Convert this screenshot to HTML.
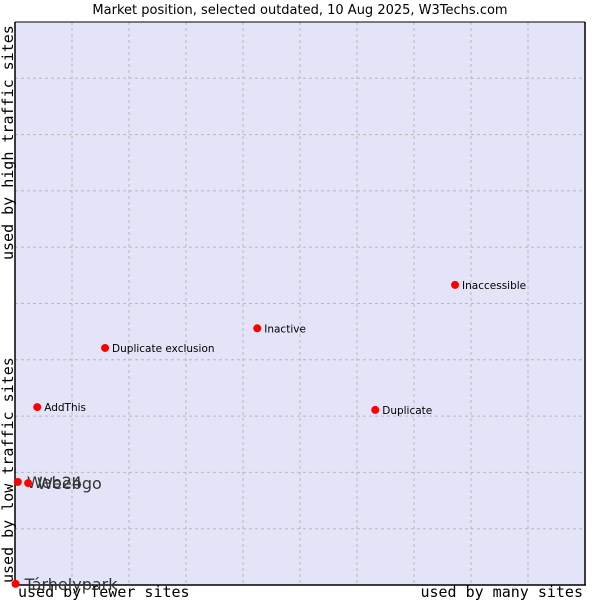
<!DOCTYPE html>
<html><head><meta charset="utf-8"><style>
body{margin:0;background:#fff;width:600px;height:600px;overflow:hidden}
svg text{font-family:"DejaVu Sans","Liberation Sans",sans-serif}
.mono{font-family:"DejaVu Sans Mono","Liberation Mono",monospace}
</style></head><body>
<svg id="chart" width="600" height="600">
<text x="300" y="14" text-anchor="middle" font-size="13" fill="#000">Market position, selected outdated, 10 Aug 2025, W3Techs.com</text>
<rect x="15" y="22" width="570" height="563" fill="#e4e4f8"/>
<g id="grid"></g>
<path d="M15 22 V585 H586" fill="none" stroke="#000" stroke-width="1.5"/>
<line x1="585" y1="22" x2="585" y2="585" stroke="#000" stroke-width="1.5"/>
<line x1="15" y1="22" x2="585" y2="22" stroke="#000" stroke-width="1"/>
<text class="mono" x="18" y="597" font-size="15">used by fewer sites</text>
<text class="mono" x="583" y="597" font-size="15" text-anchor="end">used by many sites</text>
<text class="mono" transform="translate(13,583) rotate(-90)" font-size="15">used by low traffic sites</text>
<text class="mono" transform="translate(13,260) rotate(-90)" font-size="15">used by high traffic sites</text>
<g id="points"></g>
</svg>
<script>
const names=["Tárhelypark","Web24","Weebgo","AddThis","Duplicate exclusion","Inactive","Duplicate","Inaccessible"];
const xVals=[0.1,0.5,2.3,3.9,15.8,42.5,63.2,77.2];
const yVals=[0.2,18.3,18.1,31.6,42.1,45.6,31.1,53.3];
const bigLabel=[true,true,true,false,false,false,false,false];
const L=15,R=585,T=22,B=585;
const sx=v=>L+v/100*(R-L);
const sy=v=>B-v/100*(B-T);
const ns="http://www.w3.org/2000/svg";
const g=document.getElementById('grid');
for(let i=1;i<10;i++){
 const a=document.createElementNS(ns,'line');
 
 
 a.setAttribute('x1',sx(i*10));a.setAttribute('x2',sx(i*10));a.setAttribute('y1',T);a.setAttribute('y2',B);
 a.setAttribute('stroke','#b8b8b8');a.setAttribute('stroke-dasharray','3,3');g.appendChild(a);
 const b=document.createElementNS(ns,'line');
 
 
 b.setAttribute('y1',sy(i*10));b.setAttribute('y2',sy(i*10));b.setAttribute('x1',L);b.setAttribute('x2',R);
 b.setAttribute('stroke','#b8b8b8');b.setAttribute('stroke-dasharray','3,3');g.appendChild(b);
}
const p=document.getElementById('points');
names.forEach((n,i)=>{
 const x=sx(xVals[i]),y=sy(yVals[i]);
 const c=document.createElementNS(ns,'circle');
 
 
 c.setAttribute('cx',x);c.setAttribute('cy',y);c.setAttribute('r',4);c.setAttribute('fill','#f00');
 p.appendChild(c);
 const t=document.createElementNS(ns,'text');
 
 
 t.setAttribute('x',x+(bigLabel[i]?9:7));
 t.setAttribute('y',y+(bigLabel[i]?6:4));
 t.setAttribute('font-size',bigLabel[i]?16:10.5);
 t.setAttribute('fill',bigLabel[i]?'#333':'#000');
 t.textContent=n;p.appendChild(t);
});
</script>
</body></html>
